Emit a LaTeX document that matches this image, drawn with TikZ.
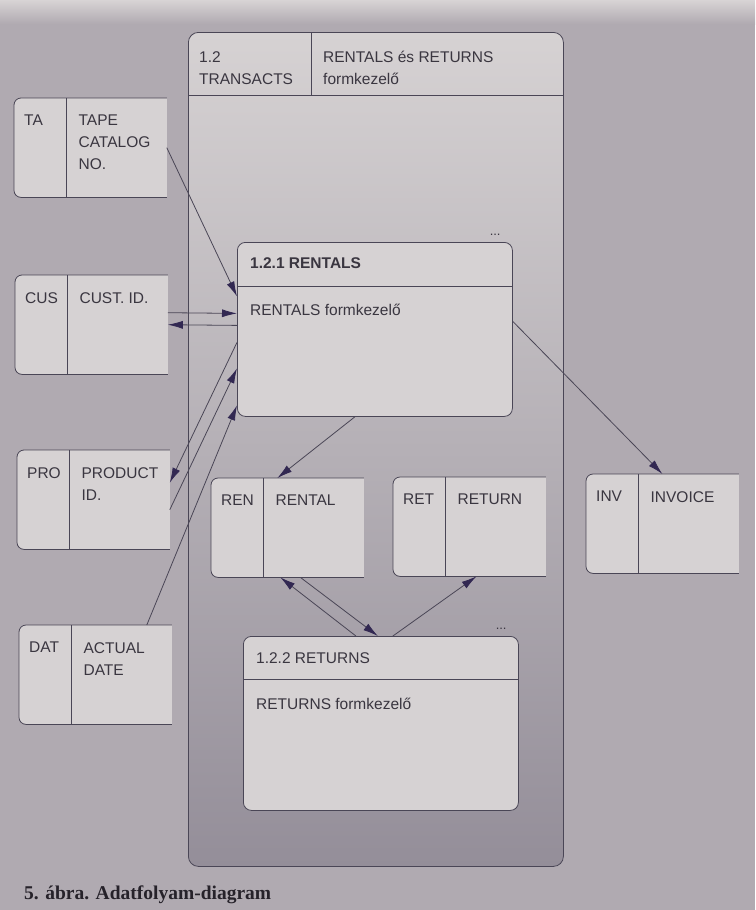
\documentclass[tikz,border=0pt]{standalone}
\usepackage{fontspec}
\setmainfont{Liberation Sans}
\newfontfamily\capfont{Liberation Serif}
\usetikzlibrary{positioning,arrows.meta,calc}
\definecolor{scanBg}{RGB}{176,170,177}
\definecolor{scanPaper}{RGB}{216,212,213}
\definecolor{scanCard}{RGB}{214,210,211}
\definecolor{scanMid}{RGB}{190,185,190}
\definecolor{scanLow}{RGB}{148,142,153}
\definecolor{scanLine}{RGB}{74,70,86}
\definecolor{scanTip}{RGB}{50,40,82}
\definecolor{scanInk}{RGB}{58,54,64}
\definecolor{scanPrint}{RGB}{38,34,42}

\tikzset{
  storepart/.style={rectangle, inner sep=0pt, anchor=north west, minimum height=99pt},
  storeline/.style={draw=scanLine, line width=0.8pt, fill=scanCard, rounded corners=7pt},
  divline/.style={draw=scanLine, line width=0.8pt},
  txt/.style={inner sep=0pt, align=left, text=scanInk, font=\fontsize{15.5}{22}\selectfont},
  process/.style={rectangle, rounded corners=8pt, draw=scanLine, line width=0.8pt,
    fill=scanCard, inner sep=0pt, anchor=north west,
    minimum width=275pt, minimum height=174pt},
  flow/.style={draw=scanLine, line width=0.8pt, -{Latex[length=15pt,width=8pt,color=scanTip]}},
  more/.style={inner sep=0pt, text=scanInk, font=\fontsize{13}{13}\selectfont},
}

\begin{document}
\begin{tikzpicture}[x=1pt,y=-1pt]
  \useasboundingbox (0,0) rectangle (755,910);
  % scanned page
  \fill[scanBg] (0,0) rectangle (755,910);
  \shade[top color=scanPaper, bottom color=scanBg] (0,0) rectangle (755,24);

  % 1.2 TRANSACTS frame
  \node[rectangle, rounded corners=10pt, draw=scanLine, line width=0.8pt,
        top color=scanCard, middle color=scanMid, bottom color=scanLow,
        anchor=north west, minimum width=375pt, minimum height=834pt, inner sep=0pt]
    (transacts) at (188,32) {};
  \draw[divline] ([yshift=-63pt]transacts.north west) -- ([yshift=-63pt]transacts.north east);
  \draw[divline] ([xshift=123pt]transacts.north west) -- ++(0,63);
  \node[txt, below right=19pt and 11pt of transacts.north west] (transacts-id) {1.2\\TRANSACTS};
  \node[txt, below right=19pt and 135pt of transacts.north west] (transacts-name) {RENTALS és RETURNS\\formkezelő};

  % data stores
  \foreach \s/\x/\y/\c/\n in {ta/14/98/TA/{TAPE\\CATALOG\\NO.},
                              cus/15/275/CUS/{CUST. ID.},
                              pro/17/450/PRO/{PRODUCT\\ID.},
                              dat/19/625/DAT/{ACTUAL\\DATE},
                              ren/211/478/REN/{RENTAL},
                              ret/393/477/RET/{RETURN},
                              inv/586/474/INV/{INVOICE}} {
    \node[storepart, minimum width=52pt] (\s-id) at (\x,\y) {};
    \node[storepart, minimum width=100pt, right=0pt of \s-id] (\s) {};
    \filldraw[storeline] (\s.north east) -- (\s-id.north west) -- (\s-id.south west) -- (\s.south east);
    \draw[divline] (\s.north west) -- (\s.south west);
    \node[txt, below right=17pt and 10pt of \s-id.north west] (\s-code) {\c};
    \node[txt, below right=17pt and 12pt of \s.north west] (\s-name) {\n};
  }

  % 1.2.1 RENTALS
  \node[process] (rentals) at (237,242) {};
  \draw[divline] ([yshift=-44pt]rentals.north west) -- ([yshift=-44pt]rentals.north east);
  \node[txt, font=\fontsize{15.5}{22}\selectfont\bfseries,
        below right=15pt and 13pt of rentals.north west] (rentals-title) {1.2.1 RENTALS};
  \node[txt, below right=62pt and 13pt of rentals.north west] (rentals-form) {RENTALS formkezelő};
  \node[more, above left=6pt and 12pt of rentals.north east] (rentals-more) {...};

  % 1.2.2 RETURNS
  \node[process] (returns) at (243,636) {};
  \draw[divline] ([yshift=-43pt]returns.north west) -- ([yshift=-43pt]returns.north east);
  \node[txt, below right=16pt and 13pt of returns.north west] (returns-title) {1.2.2 RETURNS};
  \node[txt, below right=62pt and 13pt of returns.north west] (returns-form) {RETURNS formkezelő};
  \node[more, above left=6pt and 12pt of returns.north east] (returns-more) {...};

  % flows
  \draw[flow] (ta.east) -- ([yshift=33pt]rentals.west);
  \draw[flow] ([yshift=12pt]cus.east) -- ([yshift=16pt]rentals.west);
  \draw[flow] ([yshift=4pt]rentals.west) -- (cus.east);
  \draw[flow] ([yshift=-13pt]rentals.west) -- ([yshift=17pt]pro.east);
  \draw[flow] ([yshift=-10pt]pro.east) -- ([yshift=-39pt]rentals.west);
  \draw[flow] ([xshift=-25pt]dat.north east) -- ([yshift=-76pt]rentals.west);
  \draw[flow] ([xshift=-20pt]rentals.south) -- ([xshift=14pt]ren.north west);
  \draw[flow] ([yshift=8pt]rentals.east) -- ([xshift=24pt]inv.north west);
  \draw[flow] ([xshift=-25pt]returns.north) -- ([xshift=17pt]ren.south west);
  \draw[flow] ([xshift=37pt]ren.south west) -- ([xshift=-3pt]returns.north);
  \draw[flow] ([xshift=12pt]returns.north) -- ([xshift=31pt]ret.south west);

  % caption
  \node[anchor=base west, inner sep=0pt, text=scanPrint,
        font=\capfont\bfseries\fontsize{19.5}{20}\selectfont]
    (caption) at (24,899) {5. ábra. Adatfolyam-diagram};
\end{tikzpicture}
\end{document}
